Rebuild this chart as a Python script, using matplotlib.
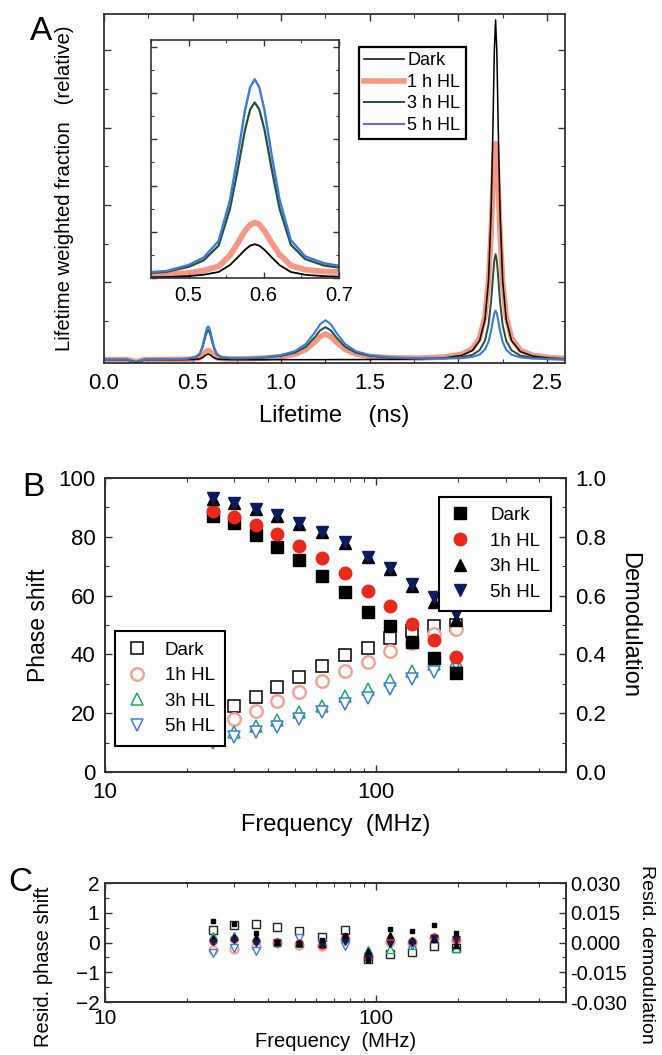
import numpy as np
import matplotlib
matplotlib.use("Agg")
import matplotlib.pyplot as plt
from matplotlib.ticker import (MultipleLocator, FixedLocator, NullFormatter, LogLocator,
                               FuncFormatter, FormatStrFormatter)

plt.rcParams['font.family'] = ['Liberation Sans', 'DejaVu Sans']

# ---------------- Panel A: lifetime distributions ----------------
tau = [0.00, 0.08, 0.13, 0.155, 0.18, 0.205, 0.23, 0.28, 0.35, 0.42,
       0.47, 0.50, 0.52, 0.54, 0.555, 0.565, 0.575, 0.582, 0.588, 0.594,
       0.601, 0.611, 0.621, 0.636, 0.655, 0.68, 0.72, 0.80, 0.90, 1.00,
       1.08, 1.14, 1.19, 1.22, 1.25, 1.28, 1.31, 1.36, 1.42, 1.50,
       1.62, 1.78, 1.92, 2.02, 2.08, 2.12, 2.15, 2.17, 2.185, 2.195,
       2.203, 2.21, 2.217, 2.225, 2.235, 2.25, 2.27, 2.30, 2.35, 2.42,
       2.52, 2.60]

dist_dark = [0.001, 0.001, 0.001, -0.024, -0.054, -0.024, 0.001, 0.001, 0.001, 0.001,
             0.002, 0.004, 0.007, 0.013, 0.028, 0.044, 0.061, 0.070, 0.073, 0.070,
             0.061, 0.044, 0.028, 0.013, 0.007, 0.004, 0.002, 0.001, 0.001, 0.002,
             0.002, 0.002, 0.002, 0.002, 0.002, 0.003, 0.003, 0.003, 0.003, 0.004,
             0.006, 0.011, 0.025, 0.058, 0.122, 0.248, 0.518, 1.02, 1.92, 3.00,
             3.99, 4.39, 3.99, 3.00, 1.92, 1.02, 0.518, 0.248, 0.106, 0.048,
             0.022, 0.014]

dist_1h = [0.002, 0.002, 0.003, -0.011, -0.027, -0.011, 0.003, 0.003, 0.005, 0.006,
           0.007, 0.011, 0.016, 0.025, 0.049, 0.074, 0.102, 0.115, 0.120, 0.116,
           0.102, 0.075, 0.051, 0.027, 0.018, 0.014, 0.012, 0.015, 0.022, 0.040,
           0.074, 0.134, 0.230, 0.300, 0.333, 0.300, 0.231, 0.136, 0.076, 0.043,
           0.026, 0.023, 0.036, 0.073, 0.145, 0.283, 0.561, 1.007, 1.649, 2.235,
           2.648, 2.793, 2.648, 2.235, 1.649, 1.007, 0.561, 0.281, 0.124, 0.058,
           0.028, 0.018]

dist_3h = [0.002, 0.003, 0.003, -0.011, -0.027, -0.011, 0.004, 0.004, 0.006, 0.008,
           0.013, 0.024, 0.038, 0.070, 0.149, 0.231, 0.320, 0.365, 0.380, 0.365,
           0.321, 0.232, 0.150, 0.072, 0.041, 0.027, 0.018, 0.019, 0.028, 0.050,
           0.094, 0.170, 0.293, 0.380, 0.422, 0.380, 0.293, 0.170, 0.094, 0.050,
           0.027, 0.018, 0.020, 0.035, 0.065, 0.125, 0.247, 0.451, 0.760, 1.061,
           1.284, 1.364, 1.284, 1.061, 0.760, 0.450, 0.246, 0.123, 0.055, 0.027,
           0.013, 0.009]

dist_5h = [0.003, 0.003, 0.003, -0.016, -0.041, -0.016, 0.004, 0.005, 0.007, 0.010,
           0.015, 0.028, 0.044, 0.080, 0.168, 0.261, 0.362, 0.413, 0.430, 0.413,
           0.363, 0.262, 0.170, 0.082, 0.047, 0.032, 0.021, 0.022, 0.033, 0.061,
           0.114, 0.207, 0.354, 0.460, 0.511, 0.460, 0.355, 0.206, 0.113, 0.060,
           0.031, 0.018, 0.016, 0.022, 0.038, 0.068, 0.131, 0.232, 0.377, 0.509,
           0.602, 0.635, 0.602, 0.509, 0.377, 0.231, 0.130, 0.067, 0.031, 0.016,
           0.009, 0.006]

labels_a = ['Dark', '1 h HL', '3 h HL', '5 h HL']

# ---------------- Panel B: phase / modulation ----------------
freq = [25, 30, 36, 43, 52, 63, 77, 93, 112, 135, 164, 197]

phase_dark = [19.3, 22.4, 25.5, 28.9, 32.3, 35.9, 39.9, 42.1, 45.5, 48.1, 49.8, 50.0]
phase_1h = [15.6, 18.1, 20.7, 24.1, 27.2, 30.9, 34.3, 37.4, 41.1, 43.8, 47.0, 48.7]
phase_3h = [12.1, 13.6, 15.6, 17.8, 20.4, 22.3, 26.0, 28.3, 31.4, 34.3, 36.6, 37.7]
phase_5h = [9.9, 11.9, 13.6, 15.3, 18.1, 20.4, 23.2, 25.3, 28.3, 31.7, 34.0, 36.6]

demod_dark = [0.872, 0.846, 0.807, 0.766, 0.721, 0.668, 0.614, 0.546, 0.498, 0.442, 0.388, 0.336]
demod_1h = [0.889, 0.869, 0.841, 0.810, 0.768, 0.727, 0.677, 0.615, 0.564, 0.504, 0.450, 0.391]
demod_3h = [0.929, 0.914, 0.893, 0.870, 0.844, 0.815, 0.778, 0.730, 0.691, 0.634, 0.578, 0.518]
demod_5h = [0.932, 0.916, 0.896, 0.873, 0.848, 0.818, 0.781, 0.733, 0.695, 0.639, 0.595, 0.538]

labels_b = ['Dark', '1h HL', '3h HL', '5h HL']

# ---------------- Panel C: residuals ----------------
res_phase_dark = [0.42, 0.59, 0.62, 0.53, 0.39, 0.20, 0.42, -0.55, -0.38, -0.33, -0.13, -0.19]
res_phase_1h = [-0.24, -0.22, -0.13, 0.00, -0.08, -0.13, 0.11, -0.52, 0.03, -0.02, 0.14, 0.09]
res_phase_3h = [0.22, 0.22, 0.18, 0.03, 0.00, -0.02, 0.18, -0.24, -0.22, -0.08, 0.14, -0.19]
res_phase_5h = [-0.36, -0.19, -0.30, 0.00, 0.14, -0.02, -0.13, -0.47, -0.02, -0.08, 0.11, 0.09]

res_demod_dark = [0.0110, 0.0093, 0.0050, 0.0005, -0.0007, 0.0013, 0.0038, -0.0087, 0.0067, 0.0060, 0.0088, 0.0050]
res_demod_1h = [0.0010, 0.0017, 0.0010, 0.0005, -0.0003, -0.0012, 0.0022, -0.0078, 0.0013, 0.0010, 0.0027, 0.0017]
res_demod_3h = [0.0022, 0.0030, 0.0022, 0.0005, -0.0003, -0.0007, 0.0033, -0.0045, 0.0038, 0.0013, 0.0017, -0.0012]
res_demod_5h = [0.0005, 0.0013, 0.0000, 0.0000, -0.0007, -0.0012, 0.0005, -0.0078, -0.0007, -0.0003, 0.0022, 0.0017]

# styles
c_dark = 'black'
c_1h_line = '#f3856f'
c_3h_line = '#23513a'
c_5h_line = '#3c78d8'
c_1h_fill = '#e8291c'
c_5h_fill = '#0b1b5c'
c_1h_open = '#f2a092'
c_3h_open = '#1fa46a'
c_5h_open = '#3a7ad8'
spine_c = '#333333'

plain_fmt = FuncFormatter(lambda v, p: f'{v:g}')


def style_axes(ax, lw=1.3):
    for s in ax.spines.values():
        s.set_linewidth(lw)
        s.set_color(spine_c)
    ax.tick_params(which='both', direction='in', color=spine_c)
    ax.tick_params(which='major', length=5, width=1.0)
    ax.tick_params(which='minor', length=3, width=0.8)


def log_freq_axis(ax):
    ax.set_xscale('log')
    ax.set_xlim(10, 500)
    ax.xaxis.set_major_locator(LogLocator(base=10, numticks=5))
    ax.xaxis.set_minor_locator(LogLocator(base=10, subs=np.arange(2, 10), numticks=10))
    ax.xaxis.set_major_formatter(plain_fmt)
    ax.xaxis.set_minor_formatter(NullFormatter())


fig = plt.figure(figsize=(6.62, 10.55), dpi=100)

# ---------- A ----------
axA = fig.add_axes([0.157, 0.656, 0.696, 0.331])
series_a = [(dist_1h, c_1h_line, 4.0, 0.85), (dist_dark, c_dark, 1.1, 1.0),
            (dist_3h, c_3h_line, 1.4, 1.0), (dist_5h, c_5h_line, 1.5, 1.0)]
for ys, c, lw, al in series_a:
    axA.plot(tau, ys, color=c, lw=lw, alpha=al, solid_capstyle='round')
axA.set_xlim(0, 2.6)
axA.set_ylim(-0.04, 4.47)
axA.xaxis.set_major_locator(MultipleLocator(0.5))
axA.xaxis.set_minor_locator(MultipleLocator(0.25))
axA.yaxis.set_major_locator(FixedLocator([1, 2, 3, 4]))
axA.yaxis.set_minor_locator(FixedLocator([0.5, 1.5, 2.5, 3.5]))
axA.yaxis.set_major_formatter(NullFormatter())
axA.tick_params(top=True, right=True, which='both')
style_axes(axA)
axA.tick_params(axis='x', labelsize=16, pad=7)
axA.set_xlabel('Lifetime    (ns)', fontsize=17, labelpad=8)
axA.set_ylabel('Lifetime weighted fraction   (relative)', fontsize=14.6, labelpad=18)

# legend for A
handles = []
for c, lw, al, lab in [(c_dark, 1.1, 1.0, labels_a[0]),
                       (c_1h_line, 4.0, 0.85, labels_a[1]),
                       (c_3h_line, 1.4, 1.0, labels_a[2]),
                       ('#6a6ae0', 1.5, 1.0, labels_a[3])]:
    h, = axA.plot([], [], color=c, lw=lw, alpha=al, label=lab)
    handles.append(h)
legA = axA.legend(handles=handles, loc='upper left', bbox_to_anchor=(0.553, 0.905),
                  fontsize=13, frameon=True, fancybox=False, edgecolor='black',
                  framealpha=1, handlelength=2.2, handletextpad=0.2,
                  borderpad=0.3, labelspacing=0.25, borderaxespad=0)
legA.get_frame().set_linewidth(1.6)

# inset
axI = fig.add_axes([0.228, 0.7365, 0.284, 0.2256])
for ys, c, lw, al in series_a:
    axI.plot(tau, ys, color=c, lw=lw + 0.2, alpha=al, solid_capstyle='round',
             solid_joinstyle='round')
axI.set_xlim(0.45, 0.70)
axI.set_ylim(0.0, 0.515)
axI.xaxis.set_major_locator(MultipleLocator(0.1))
axI.xaxis.set_minor_locator(MultipleLocator(0.05))
axI.yaxis.set_major_locator(MultipleLocator(0.1))
axI.yaxis.set_minor_locator(MultipleLocator(0.05))
axI.yaxis.set_major_formatter(NullFormatter())
axI.tick_params(top=True, right=True, which='both')
style_axes(axI, lw=1.2)
axI.tick_params(axis='x', labelsize=14.5, pad=6)
axI.tick_params(which='major', length=4)
axI.tick_params(which='minor', length=2.5)

# ---------- B ----------
axB = fig.add_axes([0.1586, 0.2682, 0.696, 0.2787])
axB2 = axB.twinx()
log_freq_axis(axB)
axB.plot(freq, phase_dark, 's', mfc='white', mec='black', mew=1.1, ms=8, ls='none', label=labels_b[0])
axB.plot(freq, phase_1h, 'o', mfc='white', mec=c_1h_open, mew=1.7, ms=9, ls='none', label=labels_b[1])
axB.plot(freq, phase_3h, '^', mfc='white', mec=c_3h_open, mew=1.1, ms=9, ls='none', label=labels_b[2])
axB.plot(freq, phase_5h, 'v', mfc='white', mec=c_5h_open, mew=1.1, ms=9, ls='none', label=labels_b[3])

axB2.plot(freq, demod_dark, 's', color='black', ms=8, ls='none', label=labels_b[0])
axB2.plot(freq, demod_1h, 'o', color=c_1h_fill, ms=9, ls='none', label=labels_b[1])
axB2.plot(freq, demod_3h, '^', color='black', ms=9, ls='none', label=labels_b[2])
axB2.plot(freq, demod_5h, 'v', color=c_5h_fill, ms=9, ls='none', label=labels_b[3])

axB.set_ylim(0, 100)
axB2.set_ylim(0, 1.0)
axB.yaxis.set_major_locator(MultipleLocator(20))
axB.yaxis.set_minor_locator(MultipleLocator(10))
axB2.yaxis.set_major_locator(MultipleLocator(0.2))
axB2.yaxis.set_minor_locator(MultipleLocator(0.1))
axB2.yaxis.set_major_formatter(FormatStrFormatter('%.1f'))
axB.tick_params(top=True, which='both')
style_axes(axB)
style_axes(axB2)
axB.tick_params(labelsize=16, pad=7)
axB2.tick_params(labelsize=16, pad=7)
axB.set_xlabel('Frequency  (MHz)', fontsize=17, labelpad=8)
axB.set_ylabel('Phase shift', fontsize=16.5, labelpad=6)
axB2.set_ylabel('Demodulation', fontsize=17, rotation=270, labelpad=24)

legB1 = axB.legend(loc='lower left', bbox_to_anchor=(0.022, 0.09), fontsize=13.5,
                   frameon=True, fancybox=False, edgecolor='black', framealpha=1,
                   handlelength=1.2, handletextpad=0.9, borderpad=0.55,
                   labelspacing=0.45, borderaxespad=0)
legB1.get_frame().set_linewidth(1.5)
legB2 = axB2.legend(loc='upper right', bbox_to_anchor=(0.967, 0.937), fontsize=13.5,
                    frameon=True, fancybox=False, edgecolor='black', framealpha=1,
                    handlelength=1.2, handletextpad=1.0, borderpad=0.55,
                    labelspacing=0.45, borderaxespad=0)
legB2.get_frame().set_linewidth(1.5)

# ---------- C ----------
axC = fig.add_axes([0.1586, 0.0502, 0.696, 0.1128])
axC2 = axC.twinx()
log_freq_axis(axC)
axC.plot(freq, res_phase_1h, 'o', mfc='white', mec=c_1h_open, mew=1.4, ms=6, ls='none')
axC.plot(freq, res_phase_dark, 's', mfc='white', mec='#222222', mew=1.0, ms=5.5, ls='none')
axC.plot(freq, res_phase_3h, '^', mfc='white', mec=c_3h_open, mew=1.0, ms=6, ls='none')
axC.plot(freq, res_phase_5h, 'v', mfc='white', mec=c_5h_open, mew=1.0, ms=6, ls='none')
axC2.plot(freq, res_demod_1h, 'o', color=c_1h_fill, ms=5, ls='none')
axC2.plot(freq, res_demod_3h, '^', color='black', ms=4.5, ls='none')
axC2.plot(freq, res_demod_5h, 'v', color=c_5h_fill, ms=4.5, ls='none')
axC2.plot(freq, res_demod_dark, 's', color='black', ms=3.5, ls='none')

axC.set_ylim(-2, 2)
axC2.set_ylim(-0.030, 0.030)
axC.yaxis.set_major_locator(MultipleLocator(1))
axC.yaxis.set_minor_locator(MultipleLocator(0.5))
axC2.yaxis.set_major_locator(MultipleLocator(0.015))
axC2.yaxis.set_minor_locator(MultipleLocator(0.0075))
axC2.yaxis.set_major_formatter(FormatStrFormatter('%.3f'))
axC.tick_params(top=True, which='both')
style_axes(axC)
style_axes(axC2)
axC.tick_params(labelsize=15, pad=4)
axC.tick_params(axis='x', pad=5)
axC2.tick_params(labelsize=14.5, pad=3)
axC.set_xlabel('Frequency  (MHz)', fontsize=14.5, labelpad=3)
axC.set_ylabel('Resid. phase shift', fontsize=14.5)
axC.yaxis.set_label_coords(-0.112, 0.30)
axC2.set_ylabel('Resid. demodulation', fontsize=14, rotation=270, va='center')
axC2.yaxis.set_label_coords(1.175, 0.40)

# panel letters
fig.text(0.045, 0.985, 'A', fontsize=24, va='top', ha='left')
fig.text(0.033, 0.553, 'B', fontsize=24, va='top', ha='left')
fig.text(0.012, 0.178, 'C', fontsize=24, va='top', ha='left')

fig.savefig('out.png', dpi=100)
print("Saved: out.png")
